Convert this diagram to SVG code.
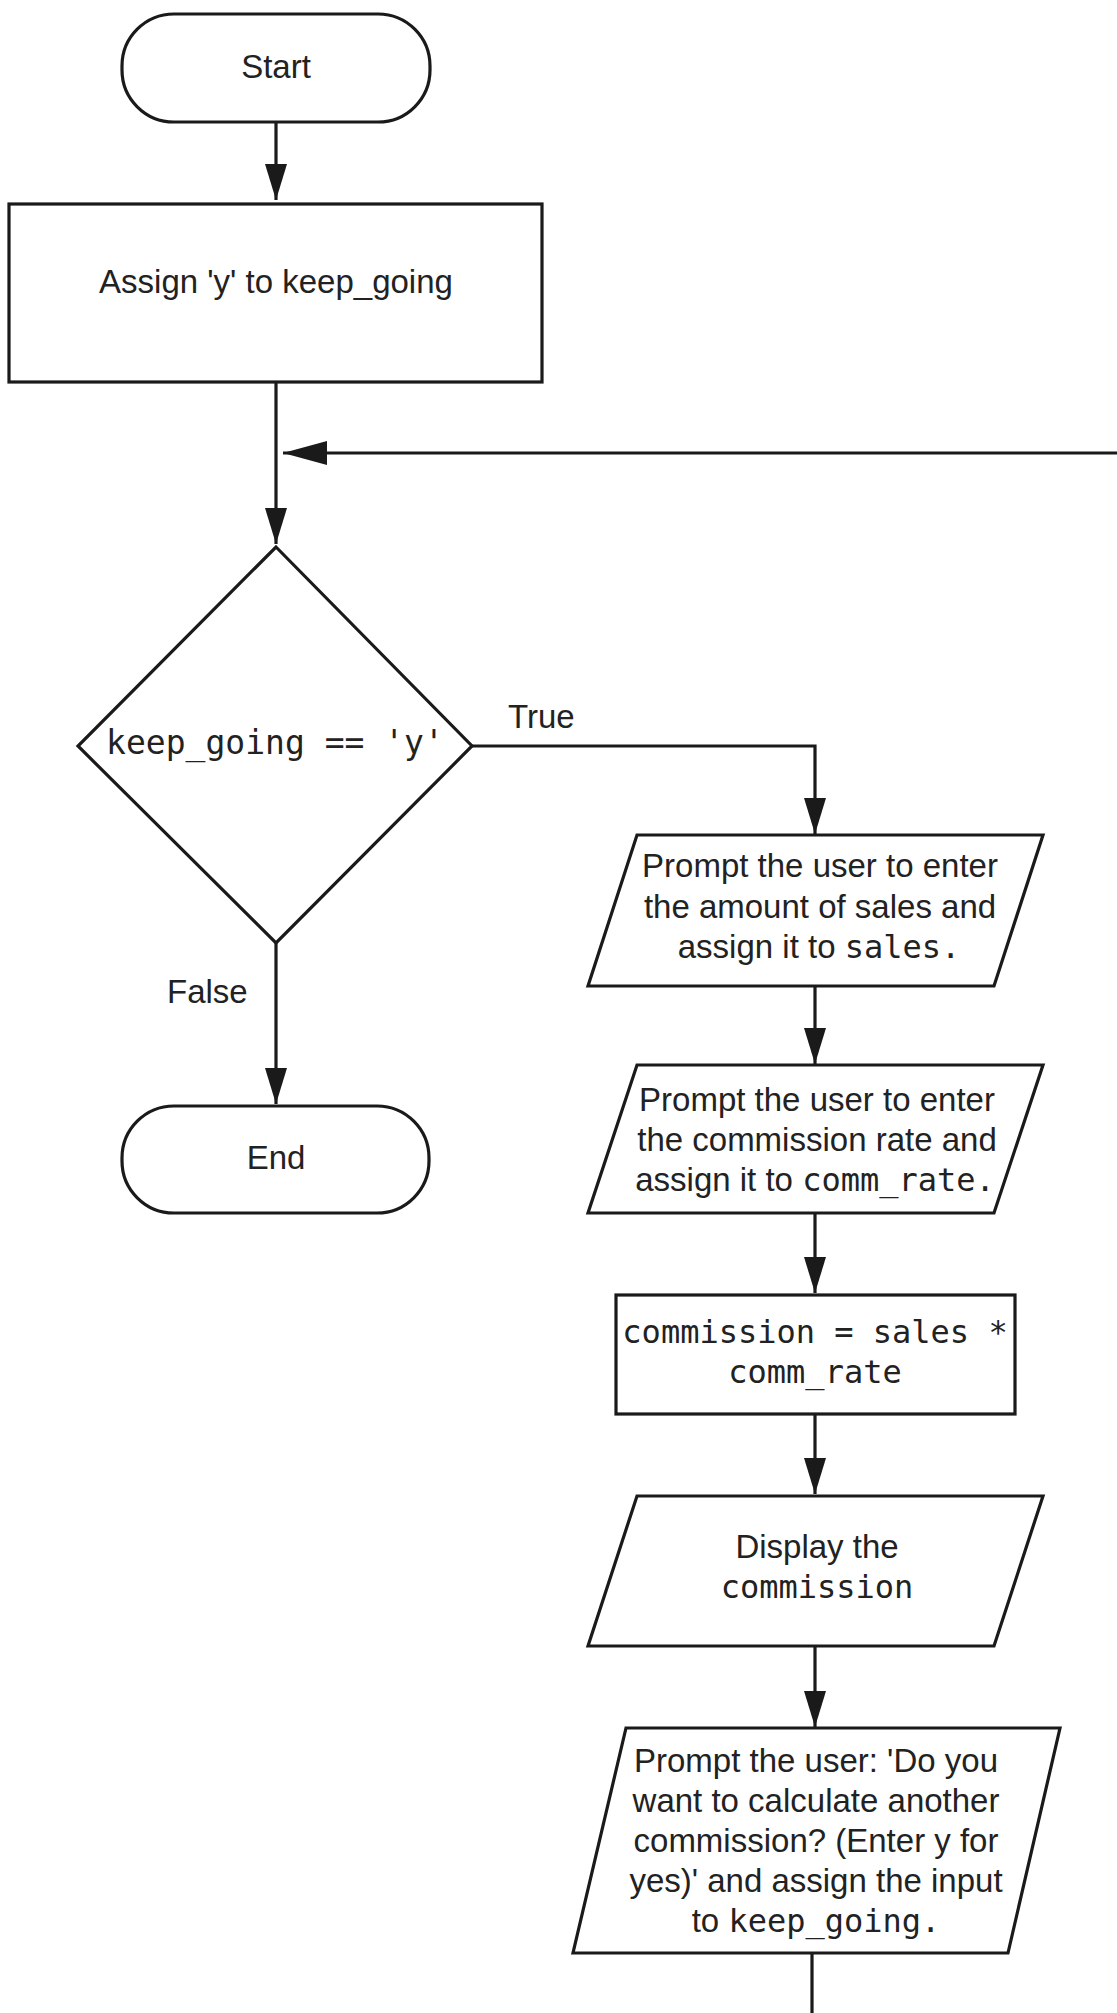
<svg xmlns="http://www.w3.org/2000/svg" width="1117" height="2013" viewBox="0 0 1117 2013">
<style>
.shape{fill:#fff;stroke:#1a1a1a;stroke-width:3.2;stroke-linejoin:miter}
.conn{fill:none;stroke:#1a1a1a;stroke-width:3.2}
.t{font-family:"Liberation Sans",Arial,sans-serif;font-size:33px;fill:#222;text-anchor:middle}
.lbl{font-family:"Liberation Sans",Arial,sans-serif;font-size:33px;fill:#222}
.m{font-family:"DejaVu Sans Mono","Liberation Mono",monospace;font-size:32px;fill:#222}
</style>
<defs>
<marker id="ah" markerWidth="36" markerHeight="22" refX="36" refY="11" orient="auto" markerUnits="userSpaceOnUse"><path d="M0,0 L36,11 L0,22 z" fill="#1a1a1a"/></marker>
<marker id="ahL" markerWidth="44" markerHeight="24" refX="44" refY="12" orient="auto" markerUnits="userSpaceOnUse"><path d="M0,0 L44,12 L0,24 z" fill="#1a1a1a"/></marker>
</defs>
<g id="connectors">
<path class="conn" d="M276,122 V200" marker-end="url(#ah)"/>
<path class="conn" d="M276,382 V544" marker-end="url(#ah)"/>
<path class="conn" d="M1117,453 H283" marker-end="url(#ahL)"/>
<path class="conn" d="M472,746 H815 V834" marker-end="url(#ah)"/>
<path class="conn" d="M276,943 V1104" marker-end="url(#ah)"/>
<path class="conn" d="M815,986 V1064" marker-end="url(#ah)"/>
<path class="conn" d="M815,1213 V1293" marker-end="url(#ah)"/>
<path class="conn" d="M815,1414 V1494" marker-end="url(#ah)"/>
<path class="conn" d="M815,1646 V1727" marker-end="url(#ah)"/>
<path class="conn" d="M812,1953 V2014.5 H1117"/>
<text class="lbl" x="508" y="728">True</text>
<text class="lbl" x="167" y="1003">False</text>
</g>
<g id="start">
<rect class="shape" x="122" y="14" width="308" height="108" rx="52" ry="52"/>
<text class="t" x="276" y="78">Start</text>
</g>
<g id="assign">
<rect class="shape" x="9" y="204" width="533" height="178"/>
<text class="t" x="276" y="293">Assign 'y' to keep_going</text>
</g>
<g id="decision">
<polygon class="shape" points="276,547 472,746 276,943 78,746"/>
<text class="m" x="275" y="754" text-anchor="middle" style="font-size:33px">keep_going == 'y'</text>
</g>
<g id="end">
<rect class="shape" x="122" y="1106" width="307" height="107" rx="52" ry="52"/>
<text class="t" x="276" y="1169">End</text>
</g>
<g id="input-sales">
<polygon class="shape" points="637,835 1043,835 994,986 588,986"/>
<text class="t" x="820" y="877">Prompt the user to enter</text>
<text class="t" x="820" y="918">the amount of sales and</text>
<text class="t" x="819" y="958">assign it to <tspan class="m">sales.</tspan></text>
</g>
<g id="input-rate">
<polygon class="shape" points="637,1065 1043,1065 994,1213 588,1213"/>
<text class="t" x="817" y="1111">Prompt the user to enter</text>
<text class="t" x="817" y="1151">the commission rate and</text>
<text class="t" x="815" y="1191">assign it to <tspan class="m">comm_rate.</tspan></text>
</g>
<g id="calc">
<rect class="shape" x="616" y="1295" width="399" height="119"/>
<text class="m" x="815" y="1343" text-anchor="middle">commission = sales *</text>
<text class="m" x="815" y="1383" text-anchor="middle">comm_rate</text>
</g>
<g id="display">
<polygon class="shape" points="637,1496 1043,1496 994,1646 588,1646"/>
<text class="t" x="817" y="1558">Display the</text>
<text class="m" x="817" y="1598" text-anchor="middle">commission</text>
</g>
<g id="input-again">
<polygon class="shape" points="626,1728 1060,1728 1008,1953 573,1953"/>
<text class="t" x="816" y="1772">Prompt the user: 'Do you</text>
<text class="t" x="816" y="1812">want to calculate another</text>
<text class="t" x="816" y="1852">commission? (Enter y for</text>
<text class="t" x="816" y="1892">yes)' and assign the input</text>
<text class="t" x="816" y="1932">to <tspan class="m">keep_going.</tspan></text>
</g>
</svg>
